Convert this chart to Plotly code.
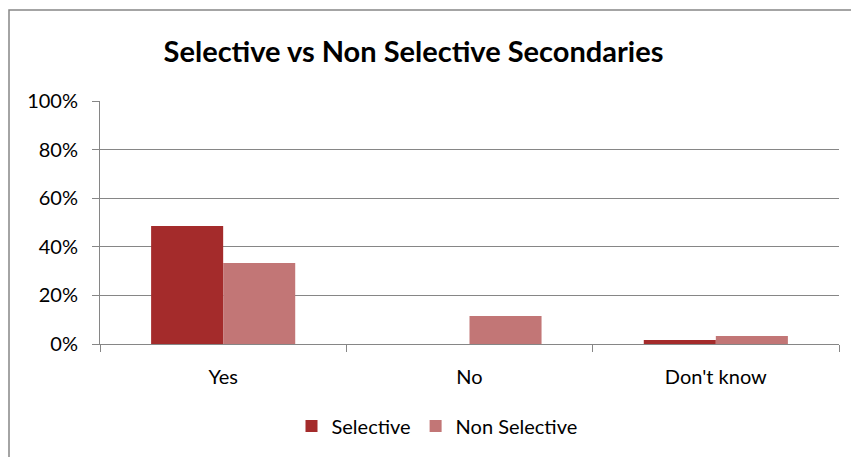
import plotly.graph_objects as go

categories = ["Yes", "No", "Don't know"]
selective = [0.486, 0.0, 0.016]
non_selective = [0.333, 0.115, 0.033]
y_ticks = [0, 0.2, 0.4, 0.6, 0.8, 1.0]
y_tick_labels = ["0%", "20%", "40%", "60%", "80%", "100%"]

W, H = 859, 457
OFF = 8  # page body margin offset
ML, MT = 100 - OFF, 101 - OFF
pw, ph = 739, 243
MR = W - ML - pw
MB = H - MT - ph

fig = go.Figure()
fig.add_trace(go.Bar(name="Selective", x=categories, y=selective,
                     marker=dict(color="#A42B2B", line=dict(width=0))))
fig.add_trace(go.Bar(name="Non Selective", x=categories, y=non_selective,
                     marker=dict(color="#C27676", line=dict(width=0))))

font = "Lato, 'Open Sans', sans-serif"
fig.update_layout(
    width=W, height=H,
    margin=dict(l=ML, r=MR, t=MT, b=MB),
    paper_bgcolor="white", plot_bgcolor="white",
    barmode="group", bargap=0.415, bargroupgap=0,
    title=dict(text="<b>Selective vs Non Selective Secondaries</b>",
               x=(413.5 - 100) / pw, xref="paper", xanchor="center",
               y=1 - (52 - OFF) / H, yref="container", yanchor="middle",
               font=dict(family=font, size=29, color="black")),
    font=dict(family=font, size=20, color="black"),
    legend=dict(orientation="h", x=(437 - 100) / pw, xanchor="center",
                y=-(426 - 344) / ph, yanchor="middle", font=dict(size=20),
                itemwidth=30, traceorder="normal"),
    xaxis=dict(showline=True, linecolor="#868686", linewidth=1,
               ticks="outside", tickson="boundaries", ticklen=7,
               tickcolor="#868686", tickfont=dict(size=20), showgrid=False,
               ticklabelstandoff=15),
    yaxis=dict(range=[0, 1], tickvals=y_ticks, ticktext=y_tick_labels,
               showline=True, linecolor="#868686", linewidth=1,
               ticks="outside", ticklen=7, tickcolor="#868686",
               showgrid=True, gridcolor="#868686", gridwidth=1,
               zeroline=False, tickfont=dict(size=20), ticklabelstandoff=10),
    shapes=[dict(type="rect", xref="paper", yref="paper", layer="below",
                 x0=(1 - ML) / pw, x1=(900 - ML) / pw,
                 y0=-(500 - (H - MB)) / ph, y1=1 + (MT - 2) / ph,
                 line=dict(color="#868686", width=1.5), fillcolor="rgba(0,0,0,0)")],
)

fig.write_html("out.html")
